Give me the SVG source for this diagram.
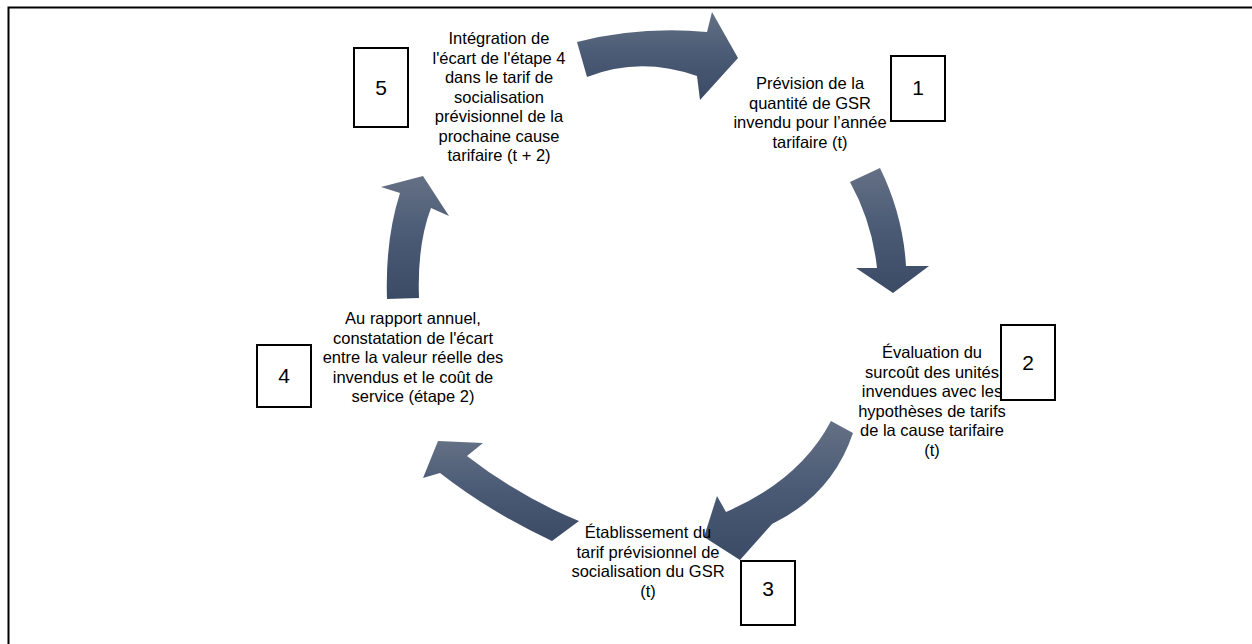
<svg xmlns="http://www.w3.org/2000/svg" width="1252" height="644" viewBox="0 0 1252 644">
<defs>
<linearGradient id="g" x1="0" y1="0" x2="0" y2="1">
<stop offset="0" stop-color="#647084"/>
<stop offset="0.5" stop-color="#4a5a75"/>
<stop offset="1" stop-color="#3b4b66"/>
</linearGradient>
<style>
.t{font-family:"Liberation Sans",Arial,sans-serif;font-size:16.5px;fill:#000;text-anchor:middle}
.n{font-family:"Liberation Sans",Arial,sans-serif;font-size:21px;fill:#000;text-anchor:middle}
.b{fill:#fff;stroke:#000;stroke-width:2}
.a{fill:url(#g)}
</style>
</defs>
<rect width="1252" height="644" fill="#fff"/>
<path d="M8.5,644 V7.5 H1252" fill="none" stroke="#000" stroke-width="2"/>
<g id="connectors">
<path class="a" d="M577,42 Q640,26 707,32 L712,12 L738,58 L700,100 L697,76 Q640,56 587,77 Z"/>
<path class="a" d="M850,182 L880,168 Q903,215 906,266 L929,266 L893,293 L856,268 L877,268 Q872,222 850,182 Z"/>
<path class="a" d="M831,421 L853,433 Q832,495 772,524 L740,560 L704,537 L717,496 L726,512 Q800,480 831,421 Z"/>
<path class="a" d="M552,541 Q490,512 440,473 L423,478 L438,441 L483,443 L467,456 Q520,497 579,521 Z"/>
<path class="a" d="M387,299 Q385,240 400,193 L381,187 L423,176 L449,216 L431,208 Q417,245 419,298 Z"/>
</g>
<g id="node1">
<text class="t"><tspan x="810" y="89">Prévision de la</tspan><tspan x="810" y="108.5">quantité de GSR</tspan><tspan x="810" y="128">invendu pour l’année</tspan><tspan x="810" y="147.5">tarifaire (t)</tspan></text>
<rect class="b" x="891" y="56" width="54" height="65"/>
<text class="n" x="918" y="95">1</text>
</g>
<g id="node2">
<text class="t"><tspan x="932" y="358">Évaluation du</tspan><tspan x="932" y="377.5">surcoût des unités</tspan><tspan x="932" y="397">invendues avec les</tspan><tspan x="932" y="416.5">hypothèses de tarifs</tspan><tspan x="932" y="436">de la cause tarifaire</tspan><tspan x="932" y="455.5">(t)</tspan></text>
<rect class="b" x="1001" y="325" width="54" height="75"/>
<text class="n" x="1028" y="370">2</text>
</g>
<g id="node3">
<text class="t"><tspan x="648" y="538">Établissement du</tspan><tspan x="648" y="557.5">tarif prévisionnel de</tspan><tspan x="648" y="577">socialisation du GSR</tspan><tspan x="648" y="596.5">(t)</tspan></text>
<rect class="b" x="741" y="561" width="54" height="64"/>
<text class="n" x="768" y="596">3</text>
</g>
<g id="node4">
<text class="t"><tspan x="413" y="324">Au rapport annuel,</tspan><tspan x="413" y="343.5">constatation de l'écart</tspan><tspan x="413" y="363">entre la valeur réelle des</tspan><tspan x="413" y="382.5">invendus et le coût de</tspan><tspan x="413" y="402">service (étape 2)</tspan></text>
<rect class="b" x="257" y="345" width="54" height="62"/>
<text class="n" x="284" y="383">4</text>
</g>
<g id="node5">
<text class="t"><tspan x="499" y="44">Intégration de</tspan><tspan x="499" y="63.5">l'écart de l'étape 4</tspan><tspan x="499" y="83">dans le tarif de</tspan><tspan x="499" y="102.5">socialisation</tspan><tspan x="499" y="122">prévisionnel de la</tspan><tspan x="499" y="141.5">prochaine cause</tspan><tspan x="499" y="161">tarifaire (t + 2)</tspan></text>
<rect class="b" x="354" y="48" width="54" height="79"/>
<text class="n" x="381" y="95">5</text>
</g>
</svg>
